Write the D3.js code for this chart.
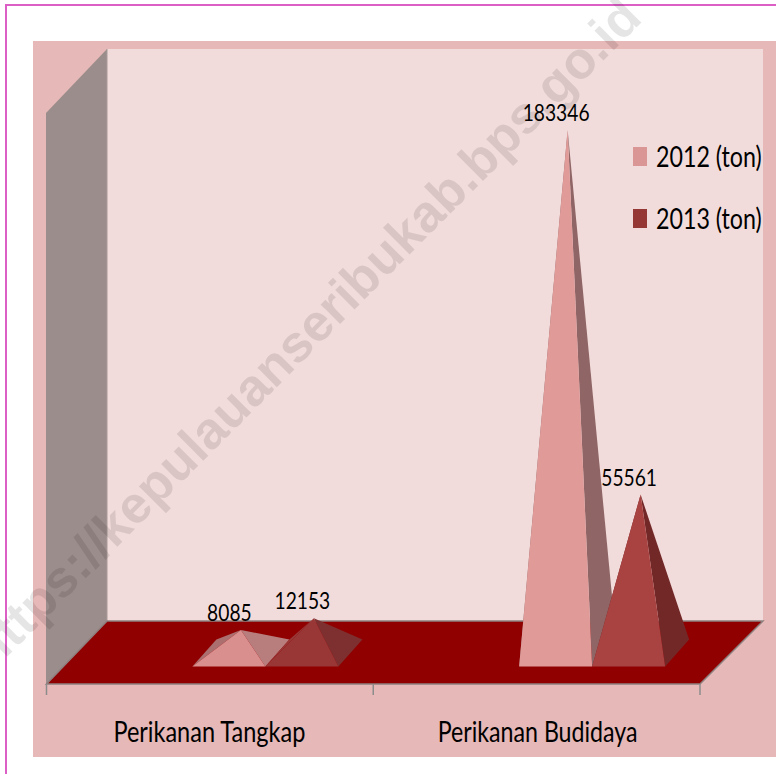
<!DOCTYPE html>
<html><head><meta charset="utf-8">
<script src="https://cdnjs.cloudflare.com/ajax/libs/d3/7.8.5/d3.min.js"></script>
<style>html,body{margin:0;padding:0;background:#fff;overflow:hidden}svg{display:block}text{font-family:Lato,"Noto Sans",sans-serif;fill:#000}</style>
</head><body><svg id="c" width="776" height="774"></svg>
<script>
const categories = ["Perikanan Tangkap", "Perikanan Budidaya"];
const seriesNames = ["2012 (ton)", "2013 (ton)"];
const values2012 = [8085, 183346];
const values2013 = [12153, 55561];
const watermark = "https://kepulauanseribukab.bps.go.id";

const svg = d3.select("#c");
const W = {l:107, r:763, t:49, b:621};
const F = {l:46.5, r:700, b:685};
const baseY = 666.5, depth = [24,-27], shift = 55.5, half = 73;

const x0 = d3.scaleBand().domain(categories).range([F.l, F.r]);
const x1 = d3.scaleBand().domain(seriesNames).range([-half, half]);
const y = d3.scaleLinear().domain([0, 183346]).range([baseY + depth[1]/2, 130]);
const poly = p => p.map(d => d.join(",")).join(" ");

svg.append("path").attr("d","M6 774V5H776").attr("fill","none").attr("stroke","#dc5fc6").attr("stroke-width",2);
svg.append("rect").attr("x",33).attr("y",41).attr("width",743).attr("height",716).attr("fill","#e6b8b7");
svg.append("rect").attr("x",W.l).attr("y",W.t).attr("width",W.r-W.l).attr("height",W.b-W.t).attr("fill","#f2dcdb");
svg.append("polygon").attr("points",poly([[46,113],[W.l,W.t],[W.l,W.b],[46,F.b]])).attr("fill","#9b8d8b");
svg.append("line").attr("x1",W.l).attr("x2",W.l).attr("y1",W.t).attr("y2",W.b).attr("stroke","#a89a98").attr("stroke-width",1);
svg.append("polygon").attr("points",poly([[W.l,W.b],[W.r,W.b],[F.r,F.b-1],[F.l,F.b-1]]))
  .attr("fill","#900000").attr("stroke","#8f8080").attr("stroke-width",1.5);

svg.append("g").selectAll("line").data([0,1,2]).join("line")
  .attr("x1",i=>F.l+i*x0.step()).attr("x2",i=>F.l+i*x0.step())
  .attr("y1",F.b-1).attr("y2",F.b+10).attr("stroke","#8c8c8c").attr("stroke-width",1.5);

const front = [["#d98f8d","#e09b99"],["#993737","#a84342"]];
const side  = [["#b87e7e","#8f6565"],["#7e3030","#732828"]];
const back  = [["#ab6f6f","#8f6565"],["#993737","#732828"]];
const rows = [values2012, values2013];
rows.forEach((vals,s)=>{
  vals.forEach((v,c)=>{
    const cx = x0(categories[c]) + x0.bandwidth()/2 + shift;
    const a = cx + x1(seriesNames[s]), b = a + x1.bandwidth();
    const apex = [(a+b)/2 + depth[0]/2, y(v)];
    const g = svg.append("g");
    g.append("polygon").attr("points",poly([[a,baseY],[a+depth[0],baseY+depth[1]],apex])).attr("fill",back[s][c]);
    g.append("polygon").attr("points",poly([[b,baseY],[b+depth[0],baseY+depth[1]],apex])).attr("fill",side[s][c]);
    g.append("polygon").attr("points",poly([[a,baseY],[b,baseY],apex])).attr("fill",front[s][c]);
    svg.append("text").attr("transform",`translate(${(a+b)/2+0.5},${apex[1]-9}) scale(0.8,1)`)
      .attr("text-anchor","middle").attr("font-size",24).text(v);
  });
});

const catX = [0.84,0.828];
svg.append("g").selectAll("text").data(categories).join("text")
  .attr("transform",(d,i)=>`translate(${x0(d)+x0.bandwidth()/2+(i?1:-0.5)},742) scale(${catX[i]},1)`)
  .attr("text-anchor","middle").attr("font-size",28).text(d=>d);

const legendColors = ["#da9694","#953735"];
const lg = svg.append("g").selectAll("g").data(seriesNames).join("g")
  .attr("transform",(d,i)=>`translate(633,${147+i*62})`);
lg.append("rect").attr("width",14).attr("height",19).attr("fill",(d,i)=>legendColors[i]);
lg.append("text").attr("transform","translate(23,20) scale(0.83,1)").attr("font-size",28).text(d=>d);

svg.append("text").attr("transform","translate(644,20) rotate(-45)").attr("text-anchor","end")
  .style("font-family","'Liberation Sans',Arial,sans-serif").style("font-weight","bold").style("fill","rgba(0,0,0,0.1)")
  .attr("font-size",52).text(watermark);
</script></body></html>
